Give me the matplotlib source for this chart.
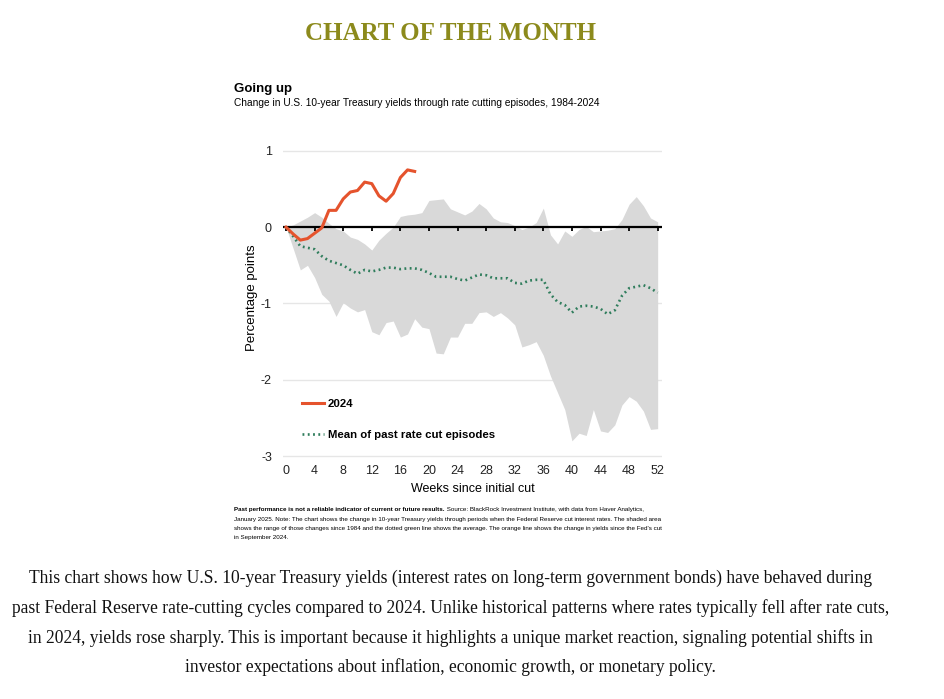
import matplotlib

matplotlib.use("Agg")

import matplotlib.pyplot as plt

plt.rcParams["font.family"] = ["Liberation Sans", "DejaVu Sans"]
plt.rcParams["axes.unicode_minus"] = False

# weekly change in 10-year yields, percentage points
WEEKS_2024 = list(range(19))
YIELD_2024 = [0.0, -0.09, -0.17, -0.15, -0.08, -0.01, 0.22, 0.22, 0.37, 0.46,
              0.48, 0.59, 0.57, 0.41, 0.34, 0.44, 0.65, 0.75, 0.73]

WEEKS = list(range(53))
MEAN_PAST = [0.0, -0.12, -0.25, -0.27, -0.29, -0.38, -0.44, -0.47, -0.50, -0.56,
             -0.61, -0.56, -0.58, -0.56, -0.53, -0.53, -0.55, -0.54, -0.54, -0.56,
             -0.60, -0.65, -0.65, -0.65, -0.68, -0.70, -0.66, -0.62, -0.63, -0.67,
             -0.67, -0.67, -0.73, -0.74, -0.70, -0.69, -0.69, -0.88, -0.98, -1.02,
             -1.12, -1.04, -1.03, -1.04, -1.07, -1.14, -1.09, -0.90, -0.80, -0.78,
             -0.76, -0.80, -0.86]
RANGE_HIGH = [0.0, 0.03, 0.08, 0.13, 0.19, 0.13, 0.05, -0.02, -0.05, -0.13,
              -0.16, -0.22, -0.30, -0.17, -0.08, 0.0, 0.14, 0.16, 0.17, 0.19,
              0.35, 0.36, 0.37, 0.24, 0.20, 0.16, 0.21, 0.31, 0.24, 0.12,
              0.07, 0.06, 0.02, -0.03, 0.0, 0.06, 0.25, -0.10, -0.22, -0.05,
              -0.12, -0.03, 0.01, -0.06, -0.05, -0.04, -0.02, 0.10, 0.30, 0.40,
              0.28, 0.12, 0.07]
RANGE_LOW = [0.0, -0.28, -0.56, -0.50, -0.66, -0.88, -0.97, -1.17, -0.99, -1.06,
             -1.11, -1.08, -1.37, -1.41, -1.25, -1.23, -1.44, -1.40, -1.20, -1.31,
             -1.33, -1.65, -1.66, -1.44, -1.44, -1.26, -1.26, -1.12, -1.11, -1.17,
             -1.12, -1.19, -1.28, -1.57, -1.54, -1.50, -1.68, -1.95, -2.17, -2.39,
             -2.80, -2.70, -2.73, -2.39, -2.67, -2.69, -2.59, -2.33, -2.22, -2.28,
             -2.41, -2.65, -2.64]

X_TICKS = list(range(0, 53, 4))
Y_TICKS = [1, 0, -1, -2, -3]

ORANGE = "#e5532d"
GREEN = "#2f7d5c"
BAND = "#d9d9d9"
OLIVE = "#8c8a1c"

HEADER = "CHART OF THE MONTH"
TITLE = "Going up"
SUBTITLE = "Change in U.S. 10-year Treasury yields through rate cutting episodes, 1984-2024"
NOTE_BOLD = "Past performance is not a reliable indicator of current or future results."
NOTE_LINES = [
    " Source: BlackRock Investment Institute, with data from Haver Analytics,",
    "January 2025. Note: The chart shows the change in 10-year Treasury yields through periods when the Federal Reserve cut interest rates. The shaded area",
    "shows the range of those changes since 1984 and the dotted green line shows the average. The orange line shows the change in yields since the Fed's cut",
    "in September 2024.",
]
PARAGRAPH = [
    "This chart shows how U.S. 10-year Treasury yields (interest rates on long-term government bonds) have behaved during",
    "past Federal Reserve rate-cutting cycles compared to 2024. Unlike historical patterns where rates typically fell after rate cuts,",
    "in 2024, yields rose sharply. This is important because it highlights a unique market reaction, signaling potential shifts in",
    "investor expectations about inflation, economic growth, or monetary policy.",
]

fig = plt.figure(figsize=(9.45, 6.99), dpi=100)
fig.patch.set_facecolor("white")

ax = fig.add_axes([0.2995, 0.342, 0.401, 0.4477])
ax.fill_between(WEEKS, RANGE_LOW, RANGE_HIGH, color=BAND, lw=0, zorder=1)
for y in Y_TICKS:
    if y != 0:
        ax.axhline(y, color="#e6e6e6", lw=1, zorder=0)
ax.axhline(0, color="black", lw=1.6, zorder=3)
ax.vlines(X_TICKS, -0.055, 0, color="black", lw=1.3, zorder=3)
ax.plot(WEEKS, MEAN_PAST, color=GREEN, lw=1.9, linestyle=(0, (0.7, 1.3)),
        label="Mean of past rate cut episodes", zorder=4)
ax.plot(WEEKS_2024, YIELD_2024, color=ORANGE, lw=2.2, label="2024", zorder=5)

ax.set_xlim(-0.42, 52.6)
ax.set_ylim(-3.05, 1.05)
ax.set_xticks(X_TICKS)
ax.set_yticks(Y_TICKS)
ax.tick_params(axis="both", length=0, labelsize=9, colors="#222222")
ax.tick_params(axis="y", pad=8)
ax.tick_params(axis="x", pad=4)
for s in ax.spines.values():
    s.set_visible(False)
ax.set_xlabel("Weeks since initial cut", fontsize=9, labelpad=4)
ax.set_ylabel("Percentage points", fontsize=9.5)
ax.yaxis.set_label_coords(-0.066, 0.52)

handles, labels = ax.get_legend_handles_labels()
leg = ax.legend(handles[::-1], labels[::-1], loc="lower left", bbox_to_anchor=(0.035, 0.045),
                frameon=False, handlelength=1.9, handletextpad=0.35, labelspacing=1.9,
                borderpad=0, prop={"weight": "bold", "size": 8.2})

fig.text(0.477, 0.952, HEADER, ha="center", va="center", fontsize=18, fontweight="bold",
         color=OLIVE, family=["Liberation Serif", "DejaVu Serif"])
fig.text(0.248, 0.873, TITLE, ha="left", va="center", fontsize=9.5, fontweight="bold")
fig.text(0.248, 0.853, SUBTITLE, ha="left", va="center", fontsize=7.3)

# footnote with bold lead-in
renderer = fig.canvas.get_renderer()
note_y = [0.2715, 0.2575, 0.244, 0.2305]
tb = fig.text(0.248, note_y[0], NOTE_BOLD, ha="left", va="center", fontsize=4.5, fontweight="bold")
bb = tb.get_window_extent(renderer)
fig.text(bb.x1 / fig.bbox.width, note_y[0], NOTE_LINES[0], ha="left", va="center", fontsize=4.5)
for line, y in zip(NOTE_LINES[1:], note_y[1:]):
    fig.text(0.248, y, line, ha="left", va="center", fontsize=4.5)

para_y = [0.173, 0.130, 0.087, 0.045]
for line, y in zip(PARAGRAPH, para_y):
    fig.text(0.477, y, line, ha="center", va="center", fontsize=12.65,
             family=["Liberation Serif", "DejaVu Serif"], color="#111111")

fig.savefig("out.png", dpi=100)
